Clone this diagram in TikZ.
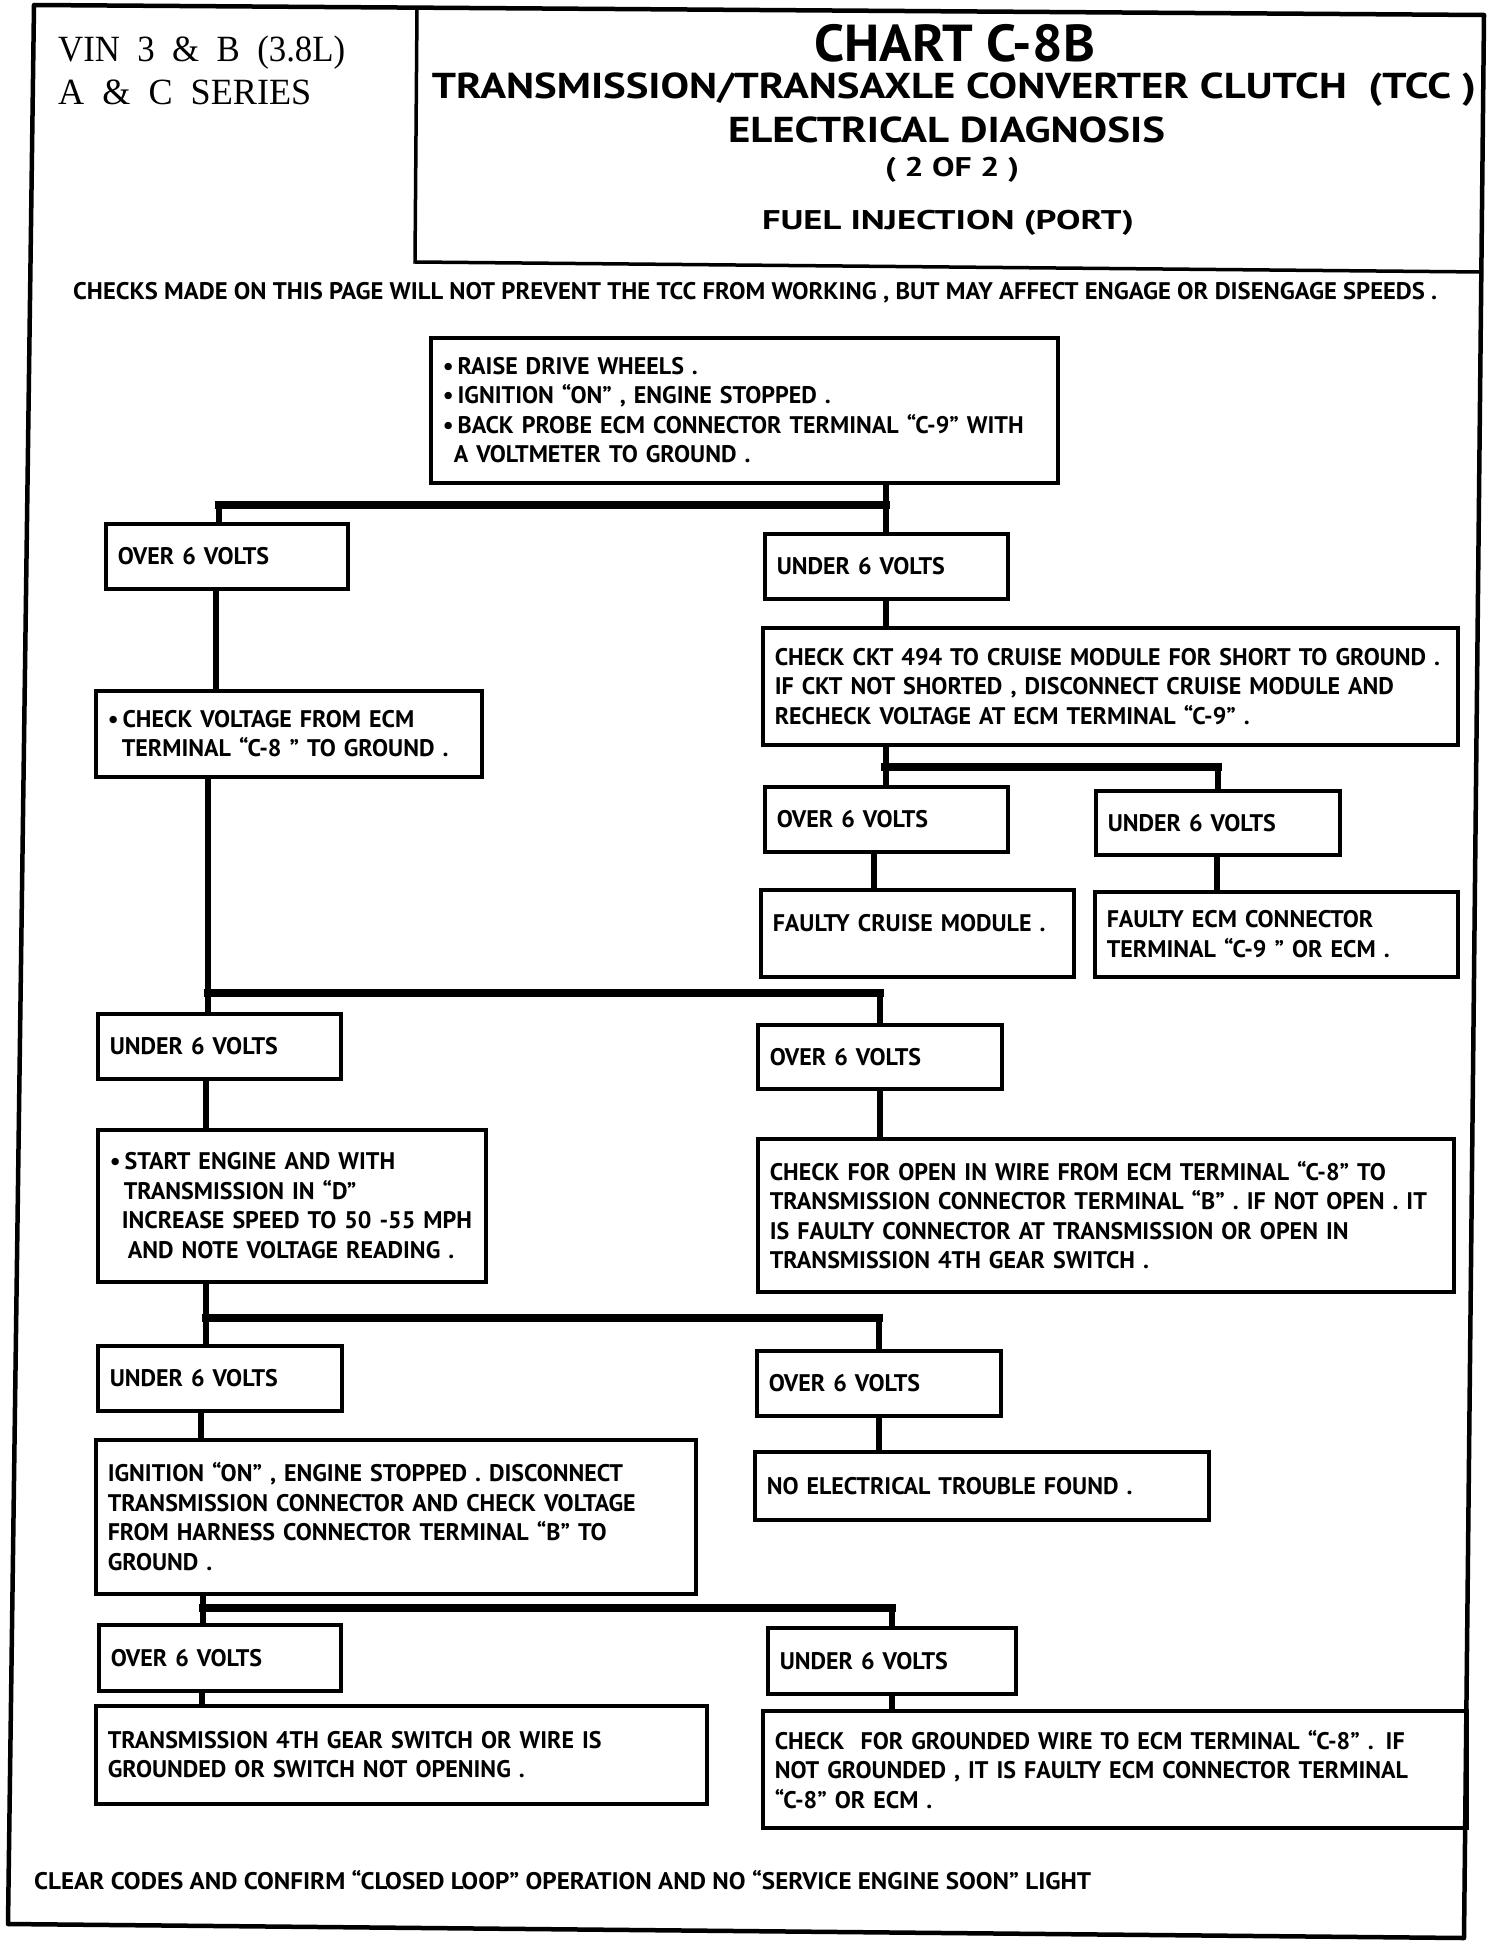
\documentclass[tikz,border=0pt]{standalone}
\usepackage{fontspec}
\usepackage{graphicx}
\setmainfont{PT Sans}
\newfontfamily\ptb{PT Sans}[FakeStretch=1.0]
\newfontfamily\serifc{Liberation Serif}
\newcommand\boxfnt{\ptb\bfseries\fontsize{24}{29.5}\selectfont}
\newcommand\fitw[2]{\resizebox{#1}{\height}{#2}}
\tikzset{
  box/.style={draw, line width=3.5pt, anchor=north west, inner xsep=12pt, inner ysep=0pt, align=left, font=\boxfnt},
  conn/.style={line width=6pt},
  bar/.style={line width=8pt, line cap=rect},
  ttl/.style={anchor=base, inner sep=0pt},
}
\newcommand\bx[6]{%
  \pgfmathsetmacro\bw{#4-#2}\pgfmathsetmacro\bh{#5-#3}\pgfmathsetmacro\tw{#4-#2-24}%
  \node[box, minimum width=\bw pt, minimum height=\bh pt, text width=\tw pt] (#1) at (#2,#3) {#6};}
\begin{document}
\begin{tikzpicture}[x=1pt,y=-1pt]
\useasboundingbox (0,0) rectangle (1504,1942);
% frame and title box
\draw[line width=4.5pt, line join=round] (34,5) -- (1484,15) -- (1464,1938) -- (8,1924) -- cycle;
\draw[line width=3.5pt] (417,8) -- (415,262) -- (1483,272);
% header texts
\node[anchor=base west, inner sep=0pt, font=\serifc\fontsize{37}{37}\selectfont] (vin) at (58,62) {\fitw{287pt}{VIN~~3~~\&~~B~~(3.8L)}};
\node[anchor=base west, inner sep=0pt, font=\serifc\fontsize{37}{37}\selectfont] (ser) at (58,105) {\fitw{253pt}{A~~\&~~C~~SERIES}};
\node[ttl, font=\ptb\bfseries\fontsize{52}{52}\selectfont] (t1) at (954.5,62) {\fitw{281pt}{CHART C-8B}};
\node[ttl, font=\ptb\bfseries\fontsize{36}{36}\selectfont] (t2) at (954,99) {\fitw{1044pt}{TRANSMISSION/TRANSAXLE CONVERTER CLUTCH\ \ (TCC )}};
\node[ttl, font=\ptb\bfseries\fontsize{36}{36}\selectfont] (t3) at (946.5,143) {\fitw{437pt}{ELECTRICAL DIAGNOSIS}};
\node[ttl, font=\ptb\bfseries\fontsize{27}{27}\selectfont] (t4) at (952,177) {\fitw{134pt}{( 2 OF 2 )}};
\node[ttl, font=\ptb\bfseries\fontsize{27}{27}\selectfont] (t5) at (948,230) {\fitw{372pt}{FUEL INJECTION (PORT)}};
\node[anchor=base west, inner sep=0pt, font=\ptb\bfseries\fontsize{24}{24}\selectfont] (chk) at (73,300) {\fitw{1364pt}{CHECKS MADE ON THIS PAGE WILL NOT PREVENT THE TCC FROM WORKING , BUT MAY AFFECT ENGAGE OR DISENGAGE SPEEDS .}};
\node[anchor=base west, inner sep=0pt, font=\ptb\bfseries\fontsize{24}{24}\selectfont] (foot) at (34,1889) {\fitw{1057pt}{CLEAR CODES AND CONFIRM “CLOSED LOOP” OPERATION AND NO “SERVICE ENGINE SOON” LIGHT}};
% boxes
\bx{A}{429}{336}{1056}{481}{•\,RAISE DRIVE WHEELS .\\ •\,IGNITION “ON” , ENGINE STOPPED .\\ •\,BACK PROBE ECM CONNECTOR TERMINAL “C-9” WITH\\ \hspace*{11pt}A VOLTMETER TO GROUND .}
\bx{B1}{104}{522}{346}{587}{OVER 6 VOLTS}
\bx{B2}{763}{532}{1006}{597}{UNDER 6 VOLTS}
\bx{C1}{94}{689}{480}{775}{•\,CHECK VOLTAGE FROM ECM\\ \hspace*{14pt}TERMINAL “C-8 ” TO GROUND .}
\bx{C2}{761}{626}{1456}{743}{CHECK CKT 494 TO CRUISE MODULE FOR SHORT TO GROUND .\\ IF CKT NOT SHORTED , DISCONNECT CRUISE MODULE AND\\ RECHECK VOLTAGE AT ECM TERMINAL “C-9” .}
\bx{D1}{763}{785}{1006}{850}{OVER 6 VOLTS}
\bx{D2}{1094}{789}{1338}{853}{UNDER 6 VOLTS}
\bx{E1}{759}{888}{1072}{975}{FAULTY CRUISE MODULE .\\[-8pt]\mbox{}}
\bx{E2}{1093}{890}{1456}{975}{FAULTY ECM CONNECTOR\\ TERMINAL “C-9 ” OR ECM .}
\bx{F1}{96}{1012}{339}{1077}{UNDER 6 VOLTS}
\bx{F2}{756}{1023}{1000}{1087}{OVER 6 VOLTS}
\bx{G1}{96}{1128}{484}{1280}{•\,START ENGINE AND WITH\\ \hspace*{14pt}TRANSMISSION IN “D”\\ \hspace*{12pt}INCREASE SPEED TO 50 -55 MPH\\ \hspace*{18pt}AND NOTE VOLTAGE READING .}
\bx{G2}{756}{1137}{1452}{1290}{CHECK FOR OPEN IN WIRE FROM ECM TERMINAL “C-8” TO\\ TRANSMISSION CONNECTOR TERMINAL “B” . IF NOT OPEN . IT\\ IS FAULTY CONNECTOR AT TRANSMISSION OR OPEN IN\\ TRANSMISSION 4TH GEAR SWITCH .}
\bx{H1}{96}{1344}{340}{1409}{UNDER 6 VOLTS}
\bx{H2}{755}{1349}{999}{1414}{OVER 6 VOLTS}
\bx{I1}{94}{1438}{694}{1592}{IGNITION “ON” , ENGINE STOPPED . DISCONNECT\\ TRANSMISSION CONNECTOR AND CHECK VOLTAGE\\ FROM HARNESS CONNECTOR TERMINAL “B” TO\\ GROUND .}
\bx{J}{753}{1450}{1207}{1518}{NO ELECTRICAL TROUBLE FOUND .}
\bx{K1}{97}{1623}{339}{1689}{OVER 6 VOLTS}
\bx{K2}{766}{1626}{1014}{1692}{UNDER 6 VOLTS}
\bx{L1}{94}{1704}{705}{1802}{TRANSMISSION 4TH GEAR SWITCH OR WIRE IS\\ GROUNDED OR SWITCH NOT OPENING .}
\bx{L2}{761}{1709}{1465}{1826}{CHECK\ \ FOR GROUNDED WIRE TO ECM TERMINAL “C-8” . IF\\ NOT GROUNDED , IT IS FAULTY ECM CONNECTOR TERMINAL\\ “C-8” OR ECM .}
% connectors
\coordinate (j1) at (219,505);
\draw[conn] (A.south -| B2.north) -- (B2.north);
\draw[bar] (j1) -- (j1 -| B2.north);
\draw[conn] (j1) -- (j1 |- B1.north);
\draw[conn] (B1.south -| 216,0) -- (C1.north -| 216,0);
\draw[conn] (B2.south) -- (B2.south |- C2.north);
\coordinate (j2) at (884.5,767);
\draw[conn] (C2.south -| D1.north) -- (D1.north);
\draw[bar] (j2) -- (j2 -| D2.north);
\draw[conn] (j2 -| D2.north) -- (D2.north);
\draw[conn] (D1.south -| 874,0) -- (E1.north -| 874,0);
\draw[conn] (D2.south -| 1217,0) -- (E2.north -| 1217,0);
\coordinate (j3) at (208,993);
\draw[conn] (C1.south -| j3) -- (j3 |- F1.north);
\draw[bar] (j3) -- (j3 -| F2.north);
\draw[conn] (j3 -| F2.north) -- (F2.north);
\draw[conn] (F1.south -| 206,0) -- (G1.north -| 206,0);
\draw[conn] (F2.south) -- (F2.south |- G2.north);
\coordinate (j4) at (206,1318);
\draw[conn] (G1.south -| j4) -- (j4 |- H1.north);
\draw[bar] (j4) -- (j4 -| H2.north);
\draw[conn] (j4 -| H2.north) -- (H2.north);
\draw[conn] (H1.south -| 201,0) -- (I1.north -| 201,0);
\draw[conn] (H2.south) -- (H2.south |- J.north);
\coordinate (j5) at (203,1608);
\draw[conn] (I1.south -| j5) -- (j5 |- K1.north);
\draw[bar] (j5) -- (j5 -| K2.north);
\draw[conn] (j5 -| K2.north) -- (K2.north);
\draw[conn] (K1.south -| 202,0) -- (L1.north -| 202,0);
\draw[conn] (K2.south) -- (K2.south |- L2.north);
\end{tikzpicture}
\end{document}
